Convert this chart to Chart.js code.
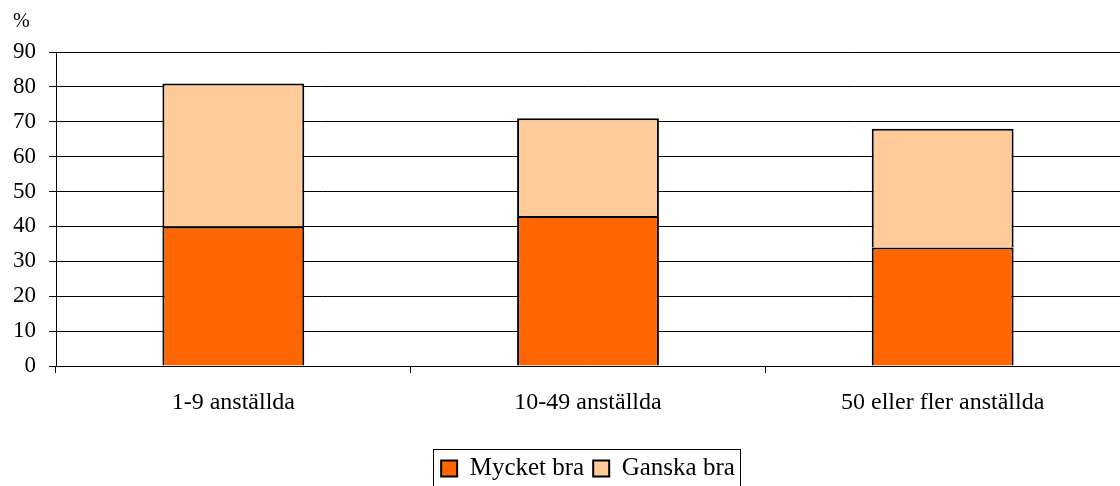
<!DOCTYPE html>
<html><head><meta charset="utf-8">
<script src="https://cdn.jsdelivr.net/npm/chart.js@4/dist/chart.umd.min.js"></script>
<style>html,body{margin:0;padding:0;background:#fff}#wrap{width:1120px;height:486px}</style>
</head><body><div id="wrap"><canvas id="c" width="1120" height="486"></canvas></div>
<script>
const categories = ['1-9 anställda', '10-49 anställda', '50 eller fler anställda'];
const mycketBra = [40, 43, 34];
const ganskaBra = [41, 28, 34];
const seriesNames = ['Mycket bra', 'Ganska bra'];
const yUnit = '%';

const FONT = "'Liberation Serif', 'Times New Roman', serif";

const extras = {
  id: 'extras',
  afterDraw(chart) {
    const ctx = chart.ctx;
    ctx.save();
    ctx.fillStyle = '#000';
    ctx.font = '20px ' + FONT;
    ctx.textAlign = 'left';
    ctx.textBaseline = 'middle';
    ctx.fillText(yUnit, 13, 22);
    const lg = chart.legend;
    if (lg && lg.legendHitBoxes && lg.legendHitBoxes.length) {
      const hb = lg.legendHitBoxes;
      const l = hb[0].left - 8, r = hb[hb.length-1].left + hb[hb.length-1].width + 5;
      const t = 449;
      ctx.strokeStyle = '#000';
      ctx.lineWidth = 1;
      ctx.strokeRect(Math.round(l)+0.5, t+0.5, Math.round(r-l), 60);
    }
    ctx.restore();
  }
};

new Chart(document.getElementById('c'), {
  type: 'bar',
  data: {
    labels: categories,
    datasets: [
      { label: seriesNames[0], data: mycketBra, backgroundColor: '#FF6600', borderColor: '#000', borderWidth: 2 },
      { label: seriesNames[1], data: ganskaBra, backgroundColor: '#FFCC99', borderColor: '#000', borderWidth: 2 }
    ]
  },
  options: {
    responsive: false,
    animation: false,
    devicePixelRatio: 1,
    layout: { padding: { top: 52, right: 0, left: 0, bottom: -5 } },
    datasets: { bar: { categoryPercentage: 1, barPercentage: 0.4 } },
    plugins: {
      legend: {
        position: 'bottom',
        fullSize: false,
        labels: { font: { family: FONT, size: 25 }, color: '#000', boxWidth: 16, boxHeight: 16, padding: 9 }
      },
      tooltip: { enabled: false },
      title: { display: false }
    },
    scales: {
      x: {
        stacked: true,
        grid: { drawOnChartArea: false, drawTicks: true, tickLength: 7, color: '#000', offset: true },
        border: { display: true, color: '#000', width: 1 },
        ticks: { font: { family: FONT, size: 24 }, color: '#000', padding: 15, maxRotation: 0 },
        afterFit(s) { s.height = 81; }
      },
      y: {
        stacked: true,
        min: 0, max: 90,
        ticks: { stepSize: 10, font: { family: FONT, size: 23 }, color: '#000', padding: 13 },
        grid: { color: '#000', lineWidth: 1, tickLength: 7 },
        border: { display: true, color: '#000', width: 1 },
        afterFit(s) { s.width = 56; }
      }
    }
  },
  plugins: [extras]
});
</script></body></html>
